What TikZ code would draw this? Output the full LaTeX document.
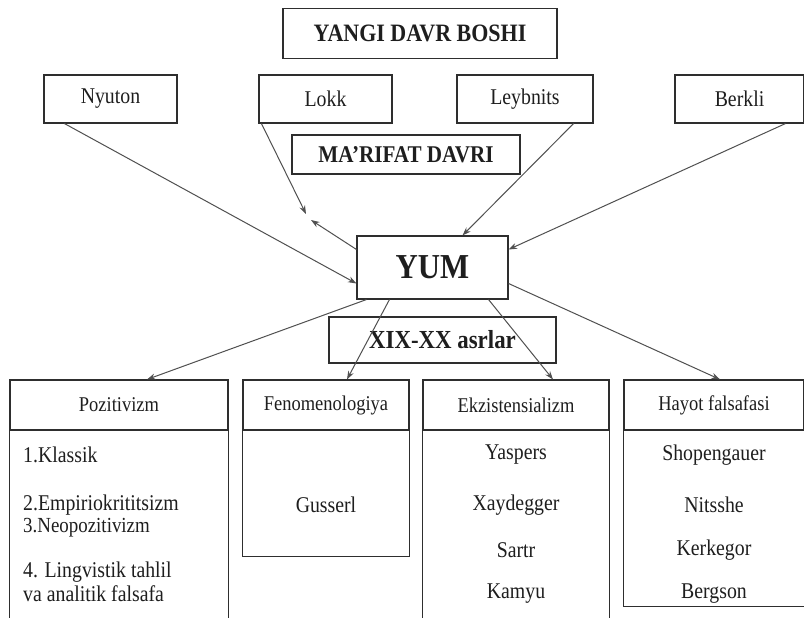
\documentclass[tikz,border=0pt]{standalone}
\usepackage{fontspec}
\setmainfont{Liberation Serif}[FakeStretch=0.88]
\usetikzlibrary{arrows.meta,calc}
\definecolor{ink}{HTML}{1E1E1E}
\definecolor{linec}{HTML}{2E2E2E}
\definecolor{arrc}{HTML}{505050}
\begin{document}
\begin{tikzpicture}[x=1pt,y=-1pt,
  box/.style={draw=linec, line width=1.1pt, rectangle, inner sep=0pt, text=ink},
  bigtitle/.style={font=\fontsize{25}{27}\selectfont\bfseries},
  rowtxt/.style={font=\fontsize{22.5}{24}\selectfont},
  headtxt/.style={font=\fontsize{21}{23}\selectfont},
  item/.style={text=ink, inner sep=0pt, font=\fontsize{22.5}{24}\selectfont},
  smallitem/.style={text=ink, inner sep=0pt, font=\fontsize{21.5}{23}\selectfont},
  conn/.style={draw=arrc, line width=1pt, -{Stealth[length=8.5pt,width=6pt]}},
  side/.style={draw=linec, line width=1.1pt}]
\useasboundingbox[fill=white] (0,0) rectangle (804,618);

% top
\node[box, bigtitle, minimum width=274pt, minimum height=50pt] (yangi) at (420,33.5) {YANGI DAVR BOSHI};

% row of thinkers
\node[box, rowtxt, minimum width=133pt, minimum height=48pt] (nyuton) at (110.5,99) {Nyuton};
\node[box, rowtxt, minimum width=133pt, minimum height=48pt] (lokk) at (325.5,99) {Lokk};
\node[box, rowtxt, minimum width=136pt, minimum height=48pt] (leyb) at (525,99) {Leybnits};
\node[box, rowtxt, minimum width=129pt, minimum height=48pt] (berkli) at (739.5,99) {Berkli};

\node[box, font=\fontsize{24}{26}\selectfont\bfseries, minimum width=228pt, minimum height=39pt] (marifat) at (406,154.5) {MA’RIFAT DAVRI};

\node[box, font=\fontsize{35}{37}\selectfont\bfseries, minimum width=151pt, minimum height=63pt] (yum) at (432.5,267.5) {YUM};

\node[box, font=\fontsize{26}{28}\selectfont\bfseries, minimum width=227pt, minimum height=46pt] (xix) at (442.5,340) {XIX-XX asrlar};

% category headers
\node[box, headtxt, minimum width=218pt, minimum height=50pt] (pozh) at (119,405) {Pozitivizm};
\node[box, headtxt, minimum width=166pt, minimum height=50pt] (fenh) at (326,405) {Fenomenologiya};
\node[box, headtxt, minimum width=186pt, minimum height=50pt] (ekzh) at (516,405) {Ekzistensializm};
\node[box, headtxt, minimum width=180pt, minimum height=50pt] (hayh) at (714,405) {Hayot falsafasi};

% column bodies
\draw[side] (pozh.south west) -- ++(0,190);
\draw[side] (pozh.south east) -- ++(0,190);
\draw[side] (fenh.south west) -- ++(0,126) -| (fenh.south east);
\draw[side] (ekzh.south west) -- ++(0,190);
\draw[side] (ekzh.south east) -- ++(0,190);
\draw[side] (hayh.south west) -- ++(0,176) -| (hayh.south east);

% items
\node[item, anchor=west] (p1) at (23,455) {1.Klassik};
\node[item, anchor=west] (p2) at (23,505) {2.Empiriokrititsizm};
\node[smallitem, anchor=west] (p3) at (23,528) {3.Neopozitivizm};
\node[item, anchor=west] (p4) at (23,572) {4. Lingvistik tahlil};
\node[item, anchor=west] (p5) at (23,594) {va analitik falsafa};

\node[item] (f1) at (326,505) {Gusserl};

\node[item] (e1) at (516,455) {Yaspers};
\node[item] (e2) at (516,505) {Xaydegger};
\node[item] (e3) at (516,550) {Sartr};
\node[item] (e4) at (516,594) {Kamyu};

\node[item] (h1) at (714,455) {Shopengauer};
\node[item] (h2) at (714,505) {Nitsshe};
\node[item] (h3) at (714,550) {Kerkegor};
\node[item] (h4) at (714,594) {Bergson};

% connectors into YUM
\coordinate (lokkend) at (306,214);
\coordinate (yumend) at (311,220);
\draw[conn] ([xshift=21pt]nyuton.south west) -- ([yshift=-16pt]yum.west);
\draw[conn] ([xshift=3pt]lokk.south west) -- (lokkend);
\draw[conn] ([yshift=-14pt]yum.north west) -- (yumend);
\draw[conn] ([xshift=-20pt]leyb.south east) -- ([xshift=30pt]yum.north);
\draw[conn] ([xshift=46pt]berkli.south) -- ([yshift=18pt]yum.east);

% connectors out of YUM
\draw[conn] ([xshift=10pt]yum.south west) -- ([xshift=28pt]pozh.north);
\draw[conn] ([xshift=33pt]yum.south west) -- ([xshift=21pt]fenh.north);
\draw[conn] ([xshift=-20pt]yum.south east) -- ([xshift=37pt]ekzh.north);
\draw[conn] ([yshift=-16pt]yum.east) -- ([xshift=6pt]hayh.north);
\end{tikzpicture}
\end{document}
